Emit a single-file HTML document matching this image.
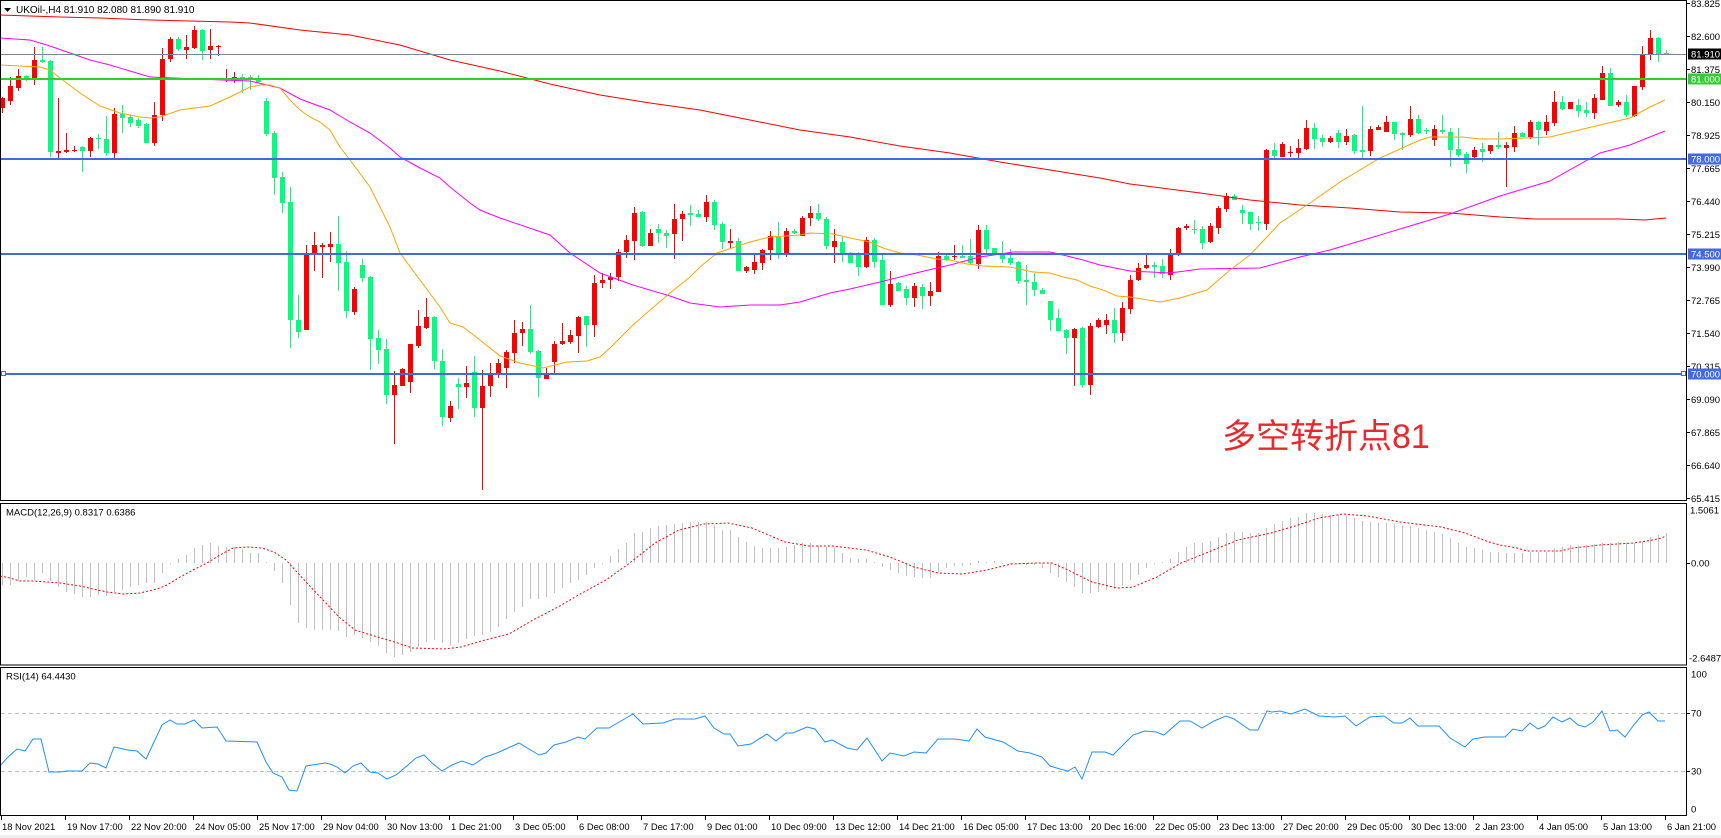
<!DOCTYPE html>
<html><head><meta charset="utf-8">
<style>
html,body{margin:0;padding:0;background:#fff;width:1721px;height:838px;overflow:hidden;}
svg{display:block;}
text{font-family:"Liberation Sans",Arial,sans-serif;}
</style></head><body>
<svg id="s" width="1721" height="838" viewBox="0 0 1721 838" xmlns="http://www.w3.org/2000/svg">
<rect x="0" y="0" width="1721" height="838" fill="#fff"/>
<rect x="0" y="835" width="1721" height="3" fill="#f0f0f0"/>

<!-- candles -->
<g id="cd" shape-rendering="crispEdges"></g>

<!-- moving averages -->
<g fill="none" stroke-width="1">
<polyline stroke="#ff0000" points="0,15 60,17 100,18 150,20 230,22 250,23 300,30 350,35 400,45 430,54 450,60 500,71 550,84 600,95 650,103 700,110 750,120 800,130 850,137 900,146 950,153 1000,162 1050,170 1100,178 1130,184 1200,193 1250,200 1300,205 1350,208 1400,212 1450,213 1500,217 1535,219 1620,219 1645,220 1666,218"/>
<polyline stroke="#ff00ff" points="0,38 30,40 50,46 70,53 90,60 110,65 130,71 150,77 222,80 250,81 280,88 300,99 330,110 350,122 370,133 390,148 400,157 420,168 440,178 450,187 470,203 480,210 500,218 550,235 570,253 600,273 633,285 670,296 690,303 720,307 750,305 780,305 800,302 830,293 850,289 880,282 920,272 950,265 980,257 1000,254 1013,252 1050,252 1063,255 1083,260 1100,265 1130,271 1170,273 1200,269 1260,268 1300,257 1330,250 1350,244 1400,229 1450,214 1500,196 1550,181 1600,153 1630,145 1665,131"/>
<polyline stroke="#ffa500" points="0,65 40,67 50,70 60,78 80,93 100,106 120,113 140,117 150,118 160,117 180,110 210,106 230,97 250,87 260,85 270,85 280,88 290,100 300,110 310,117 320,122 330,130 340,147 350,160 370,187 390,227 400,253 420,280 440,307 450,323 463,327 480,340 500,356 520,363 543,368 567,362 587,361 600,357 610,348 633,325 650,310 670,293 690,277 700,267 717,253 750,242 770,237 800,235 810,233 833,234 850,238 870,242 883,248 900,253 917,255 937,259 950,260 967,264 983,266 1010,267 1033,272 1050,273 1063,277 1077,280 1090,286 1103,290 1117,296 1130,297 1160,302 1180,298 1207,290 1230,270 1250,255 1280,223 1310,203 1340,182 1380,158 1420,140 1430,137 1463,137 1480,139 1500,139 1550,137 1600,125 1630,118 1650,107 1665,100"/>
</g>

<!-- horizontal level lines -->
<g shape-rendering="crispEdges">
<rect x="1" y="54" width="1685" height="1" fill="#778899"/>
<rect x="1" y="78" width="1685" height="2" fill="#32cd32"/>
<rect x="1" y="158" width="1685" height="2" fill="#4169e1"/>
<rect x="1" y="253" width="1685" height="2" fill="#4169e1"/>
<rect x="1" y="373" width="1685" height="2" fill="#4169e1"/>
<rect x="1.5" y="371.5" width="4" height="4" fill="#fff" stroke="#4169e1"/>
<rect x="1681.5" y="371.5" width="4" height="4" fill="#fff" stroke="#4169e1"/>
</g>

<!-- annotation -->
<text x="1222" y="448" font-size="34" fill="#e8282b" style="font-family:'Liberation Sans','Noto Sans CJK SC',sans-serif">多空转折点81</text>

<!-- title -->
<polygon points="4,8 11,8 7.5,12" fill="#000"/>
<text x="16" y="13" font-size="10" fill="#000">UKOil-,H4  81.910 82.080 81.890 81.910</text>

<!-- MACD -->
<g id="hist" shape-rendering="crispEdges"></g>
<polyline fill="none" stroke="#ff0000" stroke-width="1" stroke-dasharray="2,2" points="0,576 10,578 20,581 33,581 60,583 80,586 93,589 107,592 123,594 140,593 157,589 167,585 180,577 193,570 207,563 220,555 233,548 247,547 262,548 274,552 286,560 307,583 323,600 339,617 355,630 371,635 388,640 404,645 412,648 444,649 461,647 485,640 509,634 533,620 558,607 582,593 606,580 631,562 655,543 679,530 704,524 728,523 752,528 785,542 809,546 833,546 866,550 890,557 914,567 938,573 963,574 987,570 1011,564 1036,563 1052,563 1068,570 1092,582 1117,588 1133,587 1157,577 1181,563 1206,553 1238,540 1271,533 1295,526 1319,518 1343,514 1368,516 1400,522 1441,527 1465,533 1489,542 1500,545 1517,548 1527,551 1560,551 1573,548 1600,545 1633,543 1647,541 1662,538 1665,536"/>
<text x="6" y="515.5" font-size="9.5" fill="#000">MACD(12,26,9) 0.8317 0.6386</text>

<!-- RSI -->
<g stroke="#c0c0c0" stroke-width="1" stroke-dasharray="4,3">
<line x1="1" y1="713.5" x2="1686" y2="713.5"/>
<line x1="1" y1="771.5" x2="1686" y2="771.5"/>
</g>
<polyline fill="none" stroke="#1e90ff" stroke-width="1" points="0,766 7,758 17,749 25,751 33,739 41,739 49,772 60,772 67,771 82,771 90,763 98,764 106,768 114,747 128,750 137,751 146,759 154,742 162,725 170,720 177,724 185,724 194,720 202,728 217,727 226,741 257,742 266,762 273,773 282,777 289,790 297,791 306,766 325,763 330,764 337,767 345,773 353,766 361,763 370,772 378,773 387,779 396,775 408,765 416,758 424,755 432,763 442,771 452,765 462,761 473,765 485,757 497,753 508,748 519,743 529,749 539,755 546,753 554,745 566,742 578,737 585,739 597,728 609,728 621,721 633,714 643,724 663,723 675,719 695,719 705,716 714,728 724,734 730,734 738,746 751,744 767,734 776,741 786,733 793,733 807,727 815,729 825,742 832,740 847,748 857,750 867,738 882,761 890,753 904,756 914,752 926,753 938,739 955,739 969,741 977,729 985,737 1003,742 1018,751 1030,753 1042,757 1050,766 1060,769 1068,771 1075,767 1082,779 1092,752 1105,752 1113,755 1125,743 1133,735 1145,731 1156,732 1164,735 1180,721 1190,721 1202,728 1214,721 1226,716 1234,719 1250,730 1258,730 1267,711 1272,712 1280,711 1291,714 1305,709 1319,716 1335,717 1345,716 1356,726 1370,717 1384,716 1394,723 1402,723 1410,718 1418,726 1439,726 1450,738 1465,747 1473,739 1485,737 1500,737 1505,737 1513,729 1522,731 1530,723 1538,729 1545,726 1553,717 1562,722 1570,718 1578,725 1585,727 1593,722 1602,711 1610,731 1617,730 1625,737 1633,726 1642,715 1649,712 1658,721 1665,721"/>
<text x="6" y="679.5" font-size="9.5" fill="#000">RSI(14) 64.4430</text>

<!-- panel borders -->
<g fill="none" stroke="#000" stroke-width="1" shape-rendering="crispEdges">
<rect x="0.5" y="0.5" width="1686" height="500"/>
<rect x="0.5" y="503.5" width="1686" height="161.5"/>
<rect x="0.5" y="667.5" width="1686" height="148"/>
</g>

<!-- price axis -->
<g id="pticks" stroke="#000" stroke-width="1" shape-rendering="crispEdges"></g>
<g font-size="9.5" fill="#000">
<text x="1691" y="7">83.825</text>
<text x="1691" y="40">82.600</text>
<text x="1691" y="73">81.375</text>
<text x="1691" y="106">80.150</text>
<text x="1691" y="139">78.925</text>
<text x="1691" y="172">77.665</text>
<text x="1691" y="205">76.440</text>
<text x="1691" y="238">75.215</text>
<text x="1691" y="271">73.990</text>
<text x="1691" y="304">72.765</text>
<text x="1691" y="337">71.540</text>
<text x="1691" y="370">70.315</text>
<text x="1691" y="403">69.090</text>
<text x="1691" y="436">67.865</text>
<text x="1691" y="469">66.640</text>
<text x="1691" y="502">65.415</text>
</g>
<g shape-rendering="crispEdges">
<rect x="1688" y="48.5" width="33" height="11" fill="#000"/>
<rect x="1688" y="73.5" width="33" height="11" fill="#32cd32"/>
<rect x="1688" y="153.5" width="33" height="11" fill="#4169e1"/>
<rect x="1688" y="248.5" width="33" height="11" fill="#4169e1"/>
<rect x="1688" y="368.5" width="33" height="11" fill="#4169e1"/>
</g>
<g font-size="9.5" fill="#fff">
<text x="1691" y="57.5">81.910</text>
<text x="1691" y="82.5">81.000</text>
<text x="1691" y="162.5">78.000</text>
<text x="1691" y="257.5">74.500</text>
<text x="1691" y="377.5">70.000</text>
</g>

<!-- MACD & RSI axis -->
<g stroke="#000" stroke-width="1" shape-rendering="crispEdges">
<line x1="1686" y1="563.5" x2="1690" y2="563.5"/>
<line x1="1686" y1="713.5" x2="1690" y2="713.5"/>
<line x1="1686" y1="771.5" x2="1690" y2="771.5"/>
</g>
<g font-size="9.5" fill="#000">
<text x="1690" y="513.5">1.5061</text>
<text x="1691" y="566.5">0.00</text>
<text x="1689" y="661.5">-2.6487</text>
<text x="1691" y="677.5">100</text>
<text x="1691" y="716.5">70</text>
<text x="1691" y="774.5">30</text>
<text x="1691" y="812.5">0</text>
</g>

<!-- time axis -->
<g id="tticks" stroke="#000" stroke-width="1" shape-rendering="crispEdges"></g>
<g font-size="9.4" fill="#000">
<text x="2" y="830">18 Nov 2021</text>
<text x="67" y="830">19 Nov 17:00</text>
<text x="131" y="830">22 Nov 20:00</text>
<text x="195" y="830">24 Nov 05:00</text>
<text x="259" y="830">25 Nov 17:00</text>
<text x="323" y="830">29 Nov 04:00</text>
<text x="387" y="830">30 Nov 13:00</text>
<text x="451" y="830">1 Dec 21:00</text>
<text x="515" y="830">3 Dec 05:00</text>
<text x="579" y="830">6 Dec 08:00</text>
<text x="643" y="830">7 Dec 17:00</text>
<text x="707" y="830">9 Dec 01:00</text>
<text x="771" y="830">10 Dec 09:00</text>
<text x="835" y="830">13 Dec 12:00</text>
<text x="899" y="830">14 Dec 21:00</text>
<text x="963" y="830">16 Dec 05:00</text>
<text x="1027" y="830">17 Dec 13:00</text>
<text x="1091" y="830">20 Dec 16:00</text>
<text x="1155" y="830">22 Dec 05:00</text>
<text x="1219" y="830">23 Dec 13:00</text>
<text x="1283" y="830">27 Dec 20:00</text>
<text x="1347" y="830">29 Dec 05:00</text>
<text x="1411" y="830">30 Dec 13:00</text>
<text x="1475" y="830">2 Jan 23:00</text>
<text x="1539" y="830">4 Jan 05:00</text>
<text x="1603" y="830">5 Jan 13:00</text>
<text x="1667" y="830">6 Jan 21:00</text>
</g>
</svg>
<script>
(function(){
var D=[[1,98,108,97,113],[1,86,101,77,105],[1,76,88,69,91],[0,76,79,75,81],[1,60,79,47,85],[0,60,62,47,63],[0,61,152,60,157],[1,151,153,98,158],[1,150,152,133,153],[1,150,151,146,152],
[0,147,151,146,172],[1,138,151,137,157],[0,138,139,134,149],[0,139,153,116,156],[1,114,153,108,158],[0,114,118,105,133],[0,117,123,115,127],[0,120,126,118,128],[0,124,143,123,143],[1,115,143,102,146],
[1,59,115,48,121],[1,39,59,37,62],[0,39,49,37,51],[1,47,50,35,59],[1,30,48,26,49],[0,30,51,29,60],[1,46,50,29,59],[1,46,47,45,56],[1,79,80,69,82],[1,77,79,72,83],
[0,77,79,74,93],[0,77,80,75,90],[0,79,82,75,83],[0,101,134,98,136],[0,133,178,131,195],[0,177,203,172,213],[0,202,320,187,348],[0,320,332,295,338],[1,255,330,245,330],[1,245,253,232,271],
[1,245,247,243,278],[1,244,247,232,262],[0,244,263,216,291],[0,262,311,251,318],[1,289,312,287,315],[0,265,278,259,282],[0,277,339,276,370],[0,338,350,330,364],[0,349,395,339,404],[1,385,395,371,444],
[1,369,386,368,386],[1,344,382,344,393],[1,326,346,310,348],[1,317,328,298,329],[0,317,361,316,369],[0,361,417,349,426],[1,406,418,401,422],[0,384,387,378,409],[1,383,387,366,398],[0,372,408,356,417],
[1,386,408,370,490],[1,374,386,363,397],[1,363,374,359,378],[1,352,368,350,388],[1,333,353,320,363],[1,329,333,322,346],[0,329,352,305,354],[0,351,378,350,397],[1,375,379,368,379],[1,344,362,341,373],
[1,341,344,323,345],[1,335,342,330,344],[1,317,336,316,353],[0,316,325,316,347],[1,283,325,275,337],[1,280,283,273,288],[1,277,280,273,289],[1,252,277,249,281],[1,240,252,235,258],[1,213,241,207,260],
[0,212,246,211,247],[1,233,246,229,246],[0,229,233,224,243],[0,233,236,230,248],[1,219,234,204,259],[1,214,219,211,241],[0,213,215,205,226],[0,214,217,210,217],[1,202,217,195,222],[0,202,225,200,230],
[0,224,242,222,249],[1,241,243,229,248],[0,241,271,238,271],[1,267,271,266,273],[1,262,270,253,274],[1,250,263,249,270],[1,236,250,231,260],[0,237,253,222,259],[1,231,255,228,257],[0,231,233,229,234],
[1,218,236,216,236],[1,213,218,206,226],[0,213,219,204,221],[0,219,246,217,249],[1,241,247,229,263],[0,242,253,237,262],[0,255,263,252,263],[0,255,267,252,276],[1,240,267,237,268],[0,240,262,238,268],
[0,260,305,254,305],[1,284,305,271,307],[0,283,291,282,291],[0,289,298,286,305],[1,286,298,283,307],[0,287,296,284,309],[1,291,296,282,306],[1,256,292,252,292],[0,256,260,253,261],[1,256,257,245,260],
[0,256,258,245,258],[0,256,263,239,264],[1,230,264,225,269],[0,230,249,225,253],[0,248,253,248,254],[0,254,259,241,263],[0,258,263,249,265],[0,262,281,261,284],[0,280,282,265,305],[0,282,290,273,296],
[0,290,294,288,294],[0,301,320,301,331],[0,318,331,309,331],[0,330,338,329,354],[1,329,338,328,386],[0,328,385,327,388],[1,326,385,323,395],[1,320,327,318,328],[1,320,325,314,334],[0,320,333,308,343],
[1,308,333,302,341],[1,280,309,275,314],[1,268,280,263,281],[1,265,268,255,269],[0,265,267,262,278],[0,266,274,259,278],[1,255,275,249,280],[1,228,253,227,256],[1,226,228,224,230],[0,229,230,220,234],
[0,229,243,226,249],[1,226,242,223,243],[1,208,228,206,234],[1,196,209,193,212],[0,196,200,194,200],[0,210,213,205,224],[0,212,224,212,230],[0,222,223,216,231],[1,150,224,149,230],[0,150,156,143,158],
[1,144,157,142,157],[1,152,153,146,157],[1,148,153,139,158],[1,128,149,120,150],[0,128,139,123,149],[0,138,142,135,147],[1,138,142,136,143],[0,133,142,130,148],[1,136,142,129,145],[0,135,151,134,154],
[0,150,152,106,158],[1,129,151,126,156],[1,127,130,125,130],[1,122,132,116,132],[0,122,134,122,140],[0,133,135,132,150],[1,119,135,106,137],[0,119,133,115,134],[0,130,131,128,134],[1,129,140,125,146],
[0,130,132,115,134],[0,132,150,128,167],[0,149,155,128,157],[0,154,164,152,173],[1,150,157,147,160],[0,149,152,143,162],[1,145,151,145,154],[0,145,147,132,149],[1,145,148,142,187],[1,133,147,126,152],
[0,133,137,132,137],[1,122,137,120,139],[0,122,130,121,145],[1,122,131,115,135],[1,102,123,91,126],[0,102,109,96,110],[1,102,109,102,109],[0,105,111,99,117],[0,110,113,102,117],[1,98,113,94,119],
[1,73,100,66,100],[0,73,106,68,106],[1,102,105,100,107],[0,102,115,95,117],[1,86,116,86,117],[1,54,87,46,90],[1,38,55,30,60],[0,38,54,37,62],[0,53,54,50,55]];
var h='',k,c,x,f;
for(k=0;k<D.length;k++){c=D[k];x=2+8*k;f=c[0]?'#ff0000':'#00ff7f';
h+='<rect x="'+x+'" y="'+c[3]+'" width="1" height="'+Math.max(1,c[4]-c[3])+'" fill="'+f+'"/>';
h+='<rect x="'+(x-2)+'" y="'+c[1]+'" width="5" height="'+Math.max(1,c[2]-c[1])+'" fill="'+f+'"/>';}
document.getElementById('cd').innerHTML=h;

var H=[585,585,581,577,580,573,581,587,592,594,597,597,595,596,592,590,587,585,583,583,573,563,559,555,548,545,543,546,547,547,549,553,
553,562,571,583,605,623,628,630,630,630,631,637,635,638,642,646,653,657,655,652,647,642,640,643,645,643,639,636,635,632,627,619,612,607,599,599,597,593,588,583,580,575,568,563,556,549,543,533,532,528,526,525,524,523,522,522,522,525,530,530,537,542,546,548,548,548,547,545,543,543,545,547,548,553,558,559,559,562,567,570,573,576,577,578,578,572,568,566,566,565,561,562,561,563,563,564,565,565,568,573,577,582,587,593,593,592,590,589,585,580,575,568,563,562,559,552,547,543,543,541,537,533,532,532,533,533,528,524,521,518,517,513,513,514,515,515,516,518,521,522,523,523,524,526,526,528,530,532,534,538,543,547,548,550,552,552,553,553,553,552,552,552,548,547,545,545,545,544,543,543,542,543,543,542,537,535,533];
var b=563,s='',t;
for(k=0;k<H.length;k++){t=H[k];x=2+8*k;
var y0=Math.min(t,b),hh=Math.max(1,Math.abs(t-b));
s+='<rect x="'+x+'" y="'+y0+'" width="1" height="'+hh+'" fill="#c0c0c0"/>';}
document.getElementById('hist').innerHTML=s;

var p='';
for(k=0;k<16;k++){var yy=3.5+33*k;p+='<line x1="1686" y1="'+yy+'" x2="1690" y2="'+yy+'"/>';}
document.getElementById('pticks').innerHTML=p;
var q='';
for(k=0;k<27;k++){var xx=1.5+64*k;q+='<line x1="'+xx+'" y1="815" x2="'+xx+'" y2="820"/>';}
document.getElementById('tticks').innerHTML=q;
})();
</script>
</body></html>
